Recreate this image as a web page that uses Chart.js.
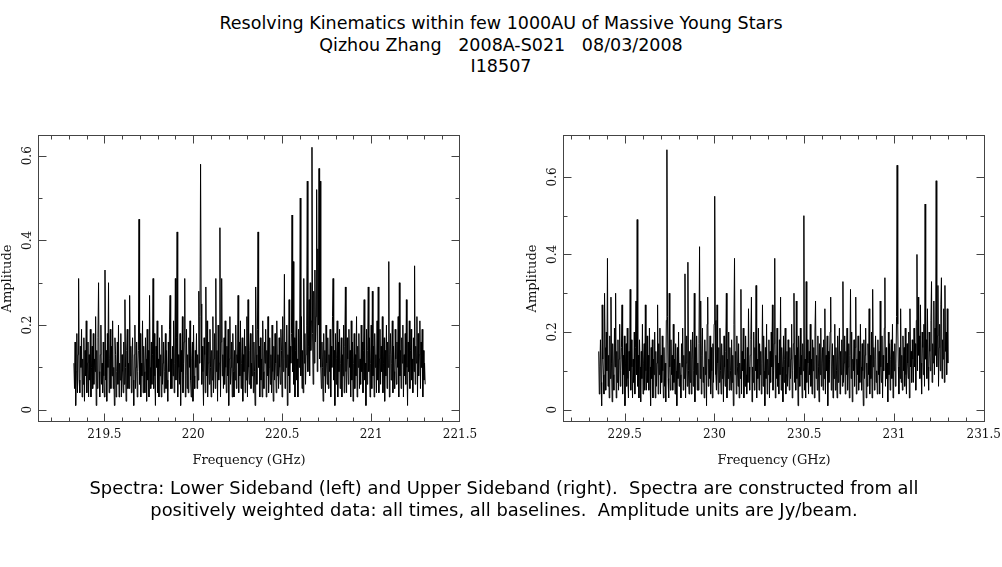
<!DOCTYPE html>
<html>
<head>
<meta charset="utf-8">
<title>I18507 spectra</title>
<script src="https://cdn.jsdelivr.net/npm/chart.js@4.4.0/dist/chart.umd.min.js"></script>
<style>
  html, body { margin: 0; padding: 0; background: #fff; overflow: hidden; }
  body { width: 1002px; height: 567px; position: relative; font-family: "DejaVu Sans", sans-serif; color: #000; }
  .txt { position: absolute; left: 0; width: 1002px; text-align: center; line-height: 21.5px; white-space: pre; }
  #title { top: 13px; font-size: 17.5px; }
  #caption { top: 477px; left: 3px; font-size: 17.9px; }
  .box { position: absolute; top: 125px; }
  #lsbBox { left: 0; }
  #usbBox { left: 525px; }
</style>
</head>
<body>
<div id="title" class="txt">Resolving Kinematics within few 1000AU of Massive Young Stars
Qizhou Zhang   2008A-S021   08/03/2008
I18507</div>

<div id="lsbBox" class="box"><canvas id="lsb" width="480" height="355"></canvas></div>
<div id="usbBox" class="box"><canvas id="usb" width="477" height="355"></canvas></div>

<div id="caption" class="txt">Spectra: Lower Sideband (left) and Upper Sideband (right).  Spectra are constructed from all
positively weighted data: all times, all baselines.  Amplitude units are Jy/beam.</div>

<script>
// first / last channel frequency of each sideband (GHz)
var lsbFirst = 219.329, lsbLast = 221.304;
var usbFirst = 229.355, usbLast = 231.300;

// amplitude per channel, in units of 0.01 Jy/beam
var lsbAmp = [
  11, 5, 16, 1, 9, 18, 4, 13, 31, 7, 4, 15, 10, 19, 3, 12, 6, 17, 2, 14,
  8, 21, 4, 11, 16, 3, 13, 7, 19, 3, 10, 15, 5, 18, 6, 12, 9, 22, 1, 14,
  5, 17, 30, 9, 3, 13, 20, 6, 11, 4, 16, 8, 3, 33, 7, 14, 2, 18, 10, 30,
  4, 12, 19, 5, 15, 8, 21, 5, 10, 1, 17, 13, 3, 9, 16, 6, 20, 3, 11, 7,
  18, 3, 13, 9, 4, 16, 6, 26, 10, 2, 14, 19, 5, 11, 5, 27, 8, 15, 4, 12,
  17, 7, 1, 13, 20, 5, 10, 16, 3, 9, 14, 45, 6, 18, 3, 11, 8, 21, 4, 15,
  9, 4, 17, 12, 2, 19, 7, 14, 3, 27, 10, 5, 16, 6, 13, 31, 5, 18, 8, 1,
  15, 10, 21, 4, 12, 3, 17, 8, 13, 3, 20, 6, 11, 16, 4, 9, 18, 5, 14, 7,
  2, 16, 9, 19, 27, 5, 12, 5, 15, 8, 21, 4, 11, 31, 7, 17, 42, 3, 13, 10,
  6, 18, 1, 14, 9, 22, 4, 11, 16, 31, 3, 8, 19, 5, 13, 4, 17, 10, 21, 7,
  3, 12, 16, 2, 20, 8, 5, 14, 10, 18, 5, 13, 7, 28, 11, 22, 58, 25, 6, 15,
  9, 1, 17, 13, 4, 29, 8, 21, 3, 11, 16, 6, 19, 10, 3, 14, 7, 22, 4, 12,
  18, 5, 31, 9, 14, 2, 20, 7, 11, 43, 3, 16, 31, 8, 13, 5, 17, 6, 21, 10,
  4, 15, 8, 19, 1, 12, 22, 6, 10, 16, 3, 18, 9, 3, 14, 7, 20, 5, 13, 11,
  27, 4, 16, 8, 21, 5, 11, 17, 2, 13, 9, 19, 4, 15, 7, 22, 3, 26, 10, 6,
  14, 18, 5, 11, 8, 20, 4, 16, 9, 1, 29, 13, 6, 19, 42, 10, 15, 3, 17, 7,
  12, 3, 21, 9, 5, 16, 11, 19, 3, 14, 8, 22, 4, 10, 17, 6, 13, 4, 20, 9,
  2, 15, 7, 18, 11, 4, 21, 8, 13, 5, 17, 10, 6, 19, 14, 3, 22, 9, 12, 32,
  5, 16, 10, 20, 1, 13, 8, 26, 4, 15, 11, 18, 46, 9, 35, 6, 17, 3, 14, 21,
  7, 12, 3, 19, 10, 16, 50, 8, 22, 5, 14, 4, 31, 11, 18, 6, 13, 20, 54, 9,
  15, 26, 8, 30, 14, 21, 62, 18, 6, 28, 11, 33, 16, 22, 52, 9, 38, 20, 57, 12,
  54, 10, 5, 16, 10, 2, 18, 8, 14, 4, 20, 11, 6, 17, 5, 13, 9, 19, 3, 15,
  10, 22, 31, 7, 14, 1, 18, 6, 12, 21, 3, 16, 9, 19, 5, 11, 17, 3, 13, 8,
  20, 4, 15, 29, 9, 4, 17, 12, 6, 19, 10, 14, 3, 21, 7, 16, 2, 11, 18, 5,
  13, 8, 22, 3, 15, 10, 18, 5, 12, 6, 20, 9, 16, 4, 14, 26, 7, 11, 1, 19,
  6, 14, 29, 9, 17, 3, 11, 20, 5, 28, 8, 15, 3, 18, 10, 13, 4, 21, 7, 29,
  4, 12, 19, 6, 15, 9, 22, 4, 11, 17, 2, 14, 8, 20, 5, 16, 10, 35, 3, 13,
  18, 7, 11, 21, 4, 15, 9, 5, 19, 12, 6, 16, 10, 22, 3, 30, 8, 14, 5, 17,
  11, 20, 3, 13, 8, 18, 6, 26, 10, 1, 16, 9, 21, 5, 14, 19, 7, 12, 4, 17,
  9, 34, 6, 15, 11, 22, 3, 18, 8, 13, 21, 5, 16, 10, 19, 3, 14, 7, 11, 6
];

var usbAmp = [
  15, 4, 11, 18, 7, 1, 27, 13, 9, 4, 30, 16, 5, 20, 10, 39, 6, 14, 3, 19,
  8, 29, 12, 2, 17, 9, 5, 21, 11, 30, 3, 15, 7, 18, 5, 13, 22, 6, 10, 16,
  27, 4, 14, 9, 19, 1, 12, 17, 6, 21, 8, 3, 15, 10, 31, 5, 18, 11, 3, 13,
  7, 20, 4, 16, 28, 9, 49, 6, 14, 3, 18, 11, 2, 15, 8, 22, 4, 12, 17, 5,
  27, 10, 5, 19, 7, 14, 5, 21, 11, 1, 16, 8, 18, 3, 13, 9, 20, 3, 15, 6,
  12, 27, 4, 17, 9, 21, 4, 14, 7, 19, 10, 3, 16, 6, 12, 2, 23, 67, 24, 8,
  3, 30, 11, 5, 18, 9, 14, 5, 22, 7, 13, 4, 17, 10, 1, 16, 8, 20, 6, 12,
  9, 3, 17, 11, 21, 5, 14, 8, 35, 3, 12, 19, 6, 38, 10, 4, 15, 7, 18, 4,
  13, 20, 6, 10, 30, 2, 16, 9, 19, 5, 12, 5, 17, 42, 8, 28, 4, 14, 21, 7,
  11, 3, 18, 9, 15, 1, 22, 29, 6, 13, 8, 19, 4, 16, 10, 3, 17, 7, 22, 55,
  23, 9, 5, 27, 12, 4, 16, 7, 21, 10, 4, 17, 8, 14, 2, 19, 11, 6, 15, 30,
  3, 13, 8, 20, 5, 16, 10, 5, 18, 7, 14, 1, 22, 39, 9, 15, 4, 19, 11, 6,
  17, 3, 12, 8, 31, 4, 15, 10, 21, 3, 13, 6, 19, 9, 4, 16, 7, 26, 11, 5,
  14, 18, 29, 2, 11, 7, 20, 5, 16, 10, 32, 3, 13, 8, 21, 5, 17, 9, 15, 4,
  12, 27, 6, 19, 10, 1, 16, 8, 22, 4, 13, 9, 18, 3, 15, 7, 20, 11, 27, 5,
  10, 17, 39, 3, 14, 8, 21, 6, 12, 4, 18, 9, 29, 5, 16, 11, 2, 19, 7, 13,
  21, 4, 9, 15, 6, 18, 11, 5, 16, 8, 13, 22, 3, 10, 17, 30, 7, 14, 5, 28,
  8, 16, 1, 19, 11, 6, 21, 9, 14, 3, 17, 10, 50, 5, 13, 3, 33, 7, 18, 12,
  4, 15, 9, 22, 6, 13, 4, 18, 10, 16, 3, 20, 28, 8, 14, 5, 19, 11, 2, 17,
  9, 21, 6, 12, 16, 5, 18, 8, 26, 4, 14, 10, 19, 1, 15, 7, 13, 20, 29, 5,
  11, 17, 3, 14, 8, 22, 5, 16, 10, 3, 19, 7, 13, 21, 4, 15, 9, 18, 6, 33,
  7, 12, 19, 4, 15, 9, 21, 5, 11, 17, 3, 14, 31, 8, 20, 2, 13, 10, 18, 6,
  16, 29, 4, 13, 9, 19, 5, 15, 7, 22, 11, 5, 17, 10, 1, 18, 8, 14, 21, 3,
  12, 6, 17, 9, 26, 4, 14, 8, 20, 3, 31, 11, 16, 5, 13, 19, 7, 10, 4, 18,
  9, 15, 4, 28, 11, 7, 19, 3, 14, 10, 21, 34, 6, 16, 8, 12, 2, 20, 9, 17,
  5, 13, 18, 8, 22, 3, 15, 10, 17, 6, 12, 24, 63, 22, 11, 4, 16, 8, 26, 7,
  14, 5, 19, 10, 16, 6, 21, 9, 4, 17, 12, 8, 20, 3, 26, 11, 15, 7, 18, 13,
  7, 21, 11, 17, 5, 23, 40, 10, 29, 14, 19, 8, 27, 12, 4, 20, 16, 9, 22, 6,
  53, 13, 18, 8, 26, 11, 5, 20, 15, 10, 23, 33, 7, 17, 12, 28, 9, 21, 14, 59,
  11, 19, 32, 6, 16, 22, 10, 27, 34, 8, 18, 13, 26, 7, 32, 15, 20, 9, 26, 12
];

// axis ticks
var lsbTicks = [219.5, 220, 220.5, 221, 221.5];
var lsbMinor = [219.2, 219.3, 219.4, 219.6, 219.7, 219.8, 219.9, 220.1, 220.2, 220.3, 220.4,
                220.6, 220.7, 220.8, 220.9, 221.1, 221.2, 221.3, 221.4];
var usbTicks = [229.5, 230, 230.5, 231, 231.5];
var usbMinor = [229.2, 229.3, 229.4, 229.6, 229.7, 229.8, 229.9, 230.1, 230.2, 230.3, 230.4,
                230.6, 230.7, 230.8, 230.9, 231.1, 231.2, 231.3, 231.4];
var ampTicks = [0, 0.2, 0.4, 0.6];
var ampMinor = [0.1, 0.3, 0.5];

Chart.defaults.font.family = '"DejaVu Serif", serif';
Chart.defaults.color = '#111';

function spectrum(first, last, amp) {
    var step = (last - first) / (amp.length - 1);
    return amp.map(function(a, i) { return { x: first + i * step, y: a / 100 }; });
}

// frame plus inward tick marks on all four sides, like the original plot
var frameTicks = {
    id: 'frameTicks',
    afterDraw: function(chart, args, opts) {
        var ctx = chart.ctx, a = chart.chartArea;
        var xs = chart.scales.x, ys = chart.scales.y;
        var L = Math.round(a.left) + 0.5, R = Math.round(a.right) - 0.5;
        var T = Math.round(a.top) + 0.5, B = Math.round(a.bottom) - 0.5;
        ctx.save();
        ctx.strokeStyle = '#444';
        ctx.lineWidth = 1;
        ctx.strokeRect(L, T, R - L, B - T);
        ctx.beginPath();
        function xt(v, len) {
            var p = Math.min(Math.max(Math.round(xs.getPixelForValue(v)) + 0.5, L), R);
            ctx.moveTo(p, T); ctx.lineTo(p, T + len);
            ctx.moveTo(p, B); ctx.lineTo(p, B - len);
        }
        function yt(v, len) {
            var p = Math.min(Math.max(Math.round(ys.getPixelForValue(v)) + 0.5, T), B);
            ctx.moveTo(L, p); ctx.lineTo(L + len, p);
            ctx.moveTo(R, p); ctx.lineTo(R - len, p);
        }
        opts.xMajor.forEach(function(v) { xt(v, 8); });
        opts.xMinor.forEach(function(v) { xt(v, 4); });
        opts.yMajor.forEach(function(v) { yt(v, 8); });
        opts.yMinor.forEach(function(v) { yt(v, 4); });
        ctx.stroke();
        ctx.restore();
    }
};

function makeChart(id, points, xMin, xMax, xTicks, xMinor, yMin, yMax, padRight) {
    return new Chart(document.getElementById(id), {
        type: 'line',
        data: {
            datasets: [{
                data: points,
                borderColor: '#000',
                borderWidth: 1,
                pointRadius: 0,
                fill: false,
                tension: 0
            }]
        },
        plugins: [frameTicks],
        options: {
            responsive: false,
            animation: false,
            events: [],
            layout: { padding: { left: 0, top: 10, right: padRight, bottom: 0 } },
            plugins: {
                legend: { display: false },
                tooltip: { enabled: false },
                frameTicks: { xMajor: xTicks, xMinor: xMinor, yMajor: ampTicks, yMinor: ampMinor }
            },
            scales: {
                x: {
                    type: 'linear',
                    min: xMin,
                    max: xMax,
                    grid: { display: false },
                    border: { display: false },
                    afterBuildTicks: function(s) { s.ticks = xTicks.map(function(v) { return { value: v }; }); },
                    afterFit: function(s) { s.height = 58; s.paddingLeft = 0; s.paddingRight = 0; },
                    ticks: {
                        padding: -2,
                        autoSkip: false,
                        maxRotation: 0,
                        font: { size: 12 },
                        callback: function(v) { return String(v); }
                    },
                    title: {
                        display: true,
                        text: 'Frequency (GHz)',
                        font: { size: 13 },
                        padding: { top: 0, bottom: 12 }
                    }
                },
                y: {
                    type: 'linear',
                    min: yMin,
                    max: yMax,
                    grid: { display: false },
                    border: { display: false },
                    afterBuildTicks: function(s) { s.ticks = ampTicks.map(function(v) { return { value: v }; }); },
                    afterFit: function(s) { s.width = 38; s.paddingTop = 0; s.paddingBottom = 0; },
                    ticks: {
                        padding: -7,
                        minRotation: 90,
                        maxRotation: 90,
                        crossAlign: 'center',
                        font: { size: 12 },
                        callback: function(v) { return String(v); }
                    },
                    title: {
                        display: true,
                        text: 'Amplitude',
                        font: { size: 13 },
                        padding: { top: 0, bottom: 0 }
                    }
                }
            }
        }
    });
}

makeChart('lsb', spectrum(lsbFirst, lsbLast, lsbAmp), 219.127, 221.5, lsbTicks, lsbMinor, -0.029, 0.649, 20);
makeChart('usb', spectrum(usbFirst, usbLast, usbAmp), 229.156, 231.507, usbTicks, usbMinor, -0.032, 0.708, 17);
</script>
</body>
</html>
